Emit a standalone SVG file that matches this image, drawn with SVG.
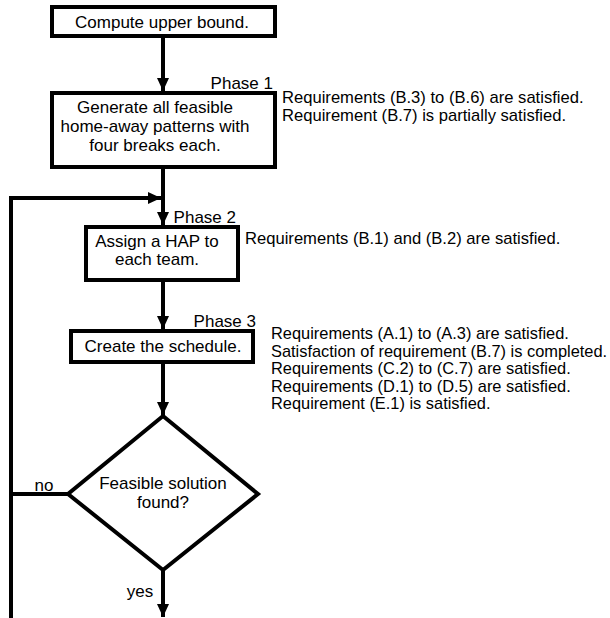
<svg xmlns="http://www.w3.org/2000/svg" width="610" height="618" viewBox="0 0 610 618">
<style>
.box{fill:#fff;stroke:#000;stroke-width:4}
.ln{fill:none;stroke:#000;stroke-width:4}
text{font-family:"Liberation Sans",Arial,sans-serif;font-size:17px;fill:#000}
.c{text-anchor:middle}
.r{text-anchor:end}
.n{font-size:16.6px}
.m{font-size:16.4px}
</style>
<defs>
<marker id="ah" markerUnits="userSpaceOnUse" markerWidth="14" markerHeight="14" viewBox="0 0 14 14" refX="13" refY="7" orient="auto">
<path d="M0,1 L13,7 L0,13 Z" fill="#000"/>
</marker>
</defs>
<rect width="610" height="618" fill="#fff"/>
<g id="connectors">
<path class="ln" d="M163,36 V91" marker-end="url(#ah)"/>
<path class="ln" d="M163,167 V225" marker-end="url(#ah)"/>
<path class="ln" d="M11,618 V198 H161" marker-end="url(#ah)"/>
<path class="ln" d="M163,280 V329" marker-end="url(#ah)"/>
<path class="ln" d="M163,362 V415" marker-end="url(#ah)"/>
<path class="ln" d="M68,494 H11"/>
<path class="ln" d="M163,570 V617" marker-end="url(#ah)"/>
<text x="44" y="491" class="c">no</text>
<text x="140" y="597" class="c">yes</text>
</g>
<g id="n1">
<rect class="box" x="52" y="7" width="223" height="29"/>
<text x="162" y="28" class="c">Compute upper bound.</text>
</g>
<g id="n2">
<rect class="box" x="52" y="93" width="223" height="74"/>
<text x="155" y="113" class="c">Generate all feasible</text>
<text x="155" y="132" class="c">home-away patterns with</text>
<text x="155" y="151" class="c">four breaks each.</text>
<text x="273" y="89" class="r">Phase 1</text>
<text x="282" y="103" class="n">Requirements (B.3) to (B.6) are satisfied.</text>
<text x="282" y="121" class="n">Requirement (B.7) is partially satisfied.</text>
</g>
<g id="n3">
<rect class="box" x="86" y="227" width="152" height="53"/>
<text x="157" y="247" class="c">Assign a HAP to</text>
<text x="157" y="265" class="c">each team.</text>
<text x="236" y="223" class="r">Phase 2</text>
<text x="245" y="244" class="n">Requirements (B.1) and (B.2) are satisfied.</text>
</g>
<g id="n4">
<rect class="box" x="71" y="331" width="182" height="31"/>
<text x="163" y="352" class="c">Create the schedule.</text>
<text x="256" y="327" class="r">Phase 3</text>
<text x="271" y="339" class="m">Requirements (A.1) to (A.3) are satisfied.</text>
<text x="271" y="356.5" class="m">Satisfaction of requirement (B.7) is completed.</text>
<text x="271" y="374" class="m">Requirements (C.2) to (C.7) are satisfied.</text>
<text x="271" y="391.5" class="m">Requirements (D.1) to (D.5) are satisfied.</text>
<text x="271" y="409" class="m">Requirement (E.1) is satisfied.</text>
</g>
<g id="n5">
<polygon class="box" points="163,416 258,494 163,570 68,494"/>
<text x="163" y="489" class="c">Feasible solution</text>
<text x="163" y="508" class="c">found?</text>
</g>
</svg>
